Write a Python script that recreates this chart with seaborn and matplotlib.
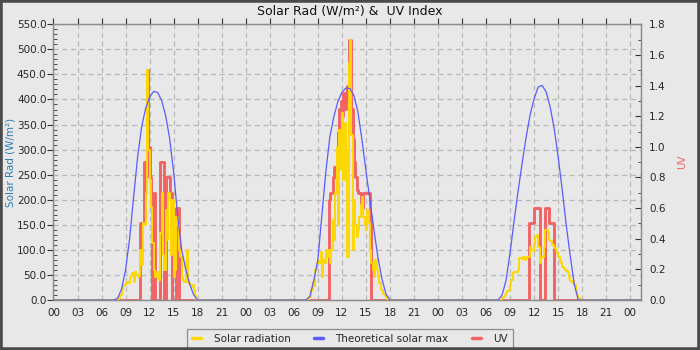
import numpy as np
import pandas as pd
import matplotlib
matplotlib.use("Agg")
import matplotlib.pyplot as plt
import seaborn as sns
from matplotlib.ticker import MultipleLocator, FuncFormatter
from matplotlib.lines import Line2D
from matplotlib.patches import Rectangle

# ---------------------------------------------------------------------------
# Data: three days of readings, hours counted from midnight of the first day
# ---------------------------------------------------------------------------
DAY_STARTS = [0, 24, 48]
X_END = 73.3

# Solar radiation (W/m²), 10-minute readings starting at SOLAR_T0 (hour of day)
SOLAR_T0 = [8.0, 7 + 40 / 60, 7 + 50 / 60]
solar_day1 = [0, 3, 10, 20, 28, 30, 33, 35, 33, 44, 48, 54, 36, 55, 50, 45, 48,
              100, 70, 153, 150, 213, 458, 300, 240, 186, 113, 60, 45, 55, 44,
              40, 133, 213, 90, 60, 180, 120, 213, 200, 90, 200, 45, 60, 166,
              150, 100, 86, 45, 40, 35, 76, 100, 33, 30, 25, 30, 20, 10, 0]
solar_day2 = [0, 5, 5, 20, 34, 27, 60, 73, 80, 73, 96, 46, 80, 73, 100, 86,
              100, 73, 100, 160, 120, 213, 305, 150, 339, 260, 373, 239, 353,
              300, 86, 473, 519, 330, 100, 200, 150, 126, 140, 166, 190, 206,
              166, 150, 140, 180, 153, 100, 73, 60, 46, 80, 60, 46, 33, 20, 20,
              12, 7, 5, 2, 0]
solar_day3 = [0, 3, 6, 10, 13, 18, 20, 30, 40, 53, 55, 56, 56, 60, 83, 84, 82,
              86, 80, 84, 86, 86, 106, 100, 98, 110, 126, 130, 106, 73, 83, 85,
              106, 140, 140, 136, 120, 118, 110, 110, 104, 100, 93, 85, 78, 73,
              66, 62, 60, 58, 53, 43, 38, 33, 37, 30, 20, 10, 3, 0]

# Theoretical clear-sky maximum (W/m²), half-hourly from 07:30 to 18:00
THEO_T0 = 7.5
theo_day1 = [0, 3, 22, 60, 122, 205, 285, 345, 382, 405, 416, 414, 398, 368,
             322, 255, 168, 100, 62, 32, 10, 0]
theo_day2 = [0, 7, 40, 80, 169, 256, 326, 366, 396, 414, 423, 422, 408, 375,
             320, 258, 200, 140, 85, 42, 12, 0]
theo_day3 = [0, 10, 40, 95, 158, 218, 273, 325, 370, 402, 425, 428, 415, 385,
             342, 285, 220, 150, 88, 32, 0, 0]

# UV index, 10-minute readings starting at UV_T0 (hour of day)
UV_T0 = [10 + 50 / 60, 10 + 20 / 60, 11 + 10 / 60]
uv_day1 = [0.5, 0.5, 0.5, 0.9, 0.8, 1.5, 1.0, 0.8, 0.7, 0.0, 0.7, 0.0, 0.0,
           0.0, 0.0, 0.9, 0.9, 0.9, 0.0, 0.8, 0.8, 0.8, 0.7, 0.7, 0.0, 0.0,
           0.0, 0.6, 0.6, 0.0]
uv_day2 = [0.65, 0.7, 0.7, 0.8, 0.87, 0.8, 0.7, 1.1, 1.25, 1.3, 1.2, 1.35,
           1.25, 1.3, 1.4, 1.7, 1.7, 1.25, 1.05, 0.9, 0.8, 0.72, 0.7, 0.7,
           0.63, 0.6, 0.7, 0.7, 0.7, 0.7, 0.7, 0.55, 0.0]
uv_day3 = [0.0, 0.5, 0.5, 0.5, 0.5, 0.6, 0.6, 0.6, 0.6, 0.0, 0.0, 0.0, 0.0,
           0.6, 0.6, 0.6, 0.5, 0.5, 0.5, 0.5, 0.0]

HOUR_TICKS = 3
SOLAR_MAX, UV_MAX = 550, 1.8


def build(days, t0s, step_h):
    """Join per-day lists into one time series padded with zeros at night."""
    hours, vals = [0.0], [0.0]
    for start, t0, values in zip(DAY_STARTS, t0s, days):
        hours += list(start + t0 + np.arange(len(values)) * step_h)
        vals += list(values)
    hours.append(X_END)
    vals.append(0.0)
    return pd.DataFrame({"hour": hours, "value": vals})


solar = build([solar_day1, solar_day2, solar_day3], SOLAR_T0, 1 / 6)
theo = build([theo_day1, theo_day2, theo_day3], [THEO_T0] * 3, 0.5)
uv = build([uv_day1, uv_day2, uv_day3], UV_T0, 1 / 6)

# ---------------------------------------------------------------------------
# Figure
# ---------------------------------------------------------------------------
sns.set_theme(style="white")
plt.rcParams["font.family"] = ["DejaVu Sans"]

BG = "#e8e8e8"
C_SOLAR = "#ffd700"
C_THEO = "#5b5bff"
C_UV = "#f26464"
C_LBL_LEFT = "#2f7db5"
GRID = "#b8b8b8"
SPINE = "#8c8c8c"

fig = plt.figure(figsize=(7, 3.5), dpi=100, facecolor=BG)
rect = [0.0764, 0.1429, 0.9153 - 0.0764, 0.9306 - 0.1429]

# background axes carries the dashed grid underneath every series
bg = fig.add_axes(rect, facecolor=BG, zorder=0)
bg.set_xlim(0, X_END)
bg.set_ylim(0, SOLAR_MAX)
bg.xaxis.set_major_locator(MultipleLocator(HOUR_TICKS))
bg.yaxis.set_major_locator(MultipleLocator(50))
bg.grid(True, color=GRID, linestyle=(0, (4, 3)), linewidth=0.9)
bg.tick_params(left=False, bottom=False, labelleft=False, labelbottom=False)
for s in bg.spines.values():
    s.set_visible(False)

ax = fig.add_axes(rect, zorder=2)
ax.patch.set_visible(False)
ax2 = ax.twinx()
ax2.set_zorder(1)
ax2.patch.set_visible(False)

# UV on the right axis (drawn beneath the radiation lines)
sns.lineplot(data=uv, x="hour", y="value", ax=ax2, color=C_UV, linewidth=2.1,
             drawstyle="steps-post", estimator=None, sort=False, legend=False)
sns.lineplot(data=solar, x="hour", y="value", ax=ax, color=C_SOLAR,
             linewidth=1.4, drawstyle="steps-post", estimator=None, sort=False,
             legend=False)
sns.lineplot(data=theo, x="hour", y="value", ax=ax, color=C_THEO,
             linewidth=0.9, estimator=None, sort=False, legend=False)

ax.set_xlim(0, X_END)
ax.set_ylim(0, SOLAR_MAX)
ax2.set_ylim(0, UV_MAX)

# ticks
ax.xaxis.set_major_locator(MultipleLocator(HOUR_TICKS))
ax.xaxis.set_minor_locator(MultipleLocator(1))
ax.xaxis.set_major_formatter(FuncFormatter(lambda v, p: f"{int(round(v)) % 24:02d}"))
ax.yaxis.set_major_locator(MultipleLocator(50))
ax.yaxis.set_minor_locator(MultipleLocator(10))
ax.yaxis.set_major_formatter(FuncFormatter(lambda v, p: f"{v:.1f}"))
ax2.yaxis.set_major_locator(MultipleLocator(0.2))
ax2.yaxis.set_minor_locator(MultipleLocator(0.1))
ax2.yaxis.set_major_formatter(FuncFormatter(lambda v, p: f"{v:.1f}"))

ax.tick_params(axis="x", which="major", direction="out", length=4, width=0.8,
               color="#333333", labelsize=7.5, pad=2, top=True)
ax.tick_params(axis="x", which="minor", direction="out", length=3, width=0.7,
               color="#333333", top=False)
ax.tick_params(axis="y", which="major", direction="out", length=4, width=0.8,
               color="#333333", labelsize=7.5, pad=1)
ax.tick_params(axis="y", which="minor", direction="in", length=3, width=0.6,
               color="#333333")
ax2.tick_params(axis="y", which="major", direction="in", length=4, width=0.8,
                color="#333333", labelsize=7.5, pad=6)
ax2.tick_params(axis="y", which="minor", direction="in", length=2.5,
                width=0.6, color="#333333")

for a in (ax, ax2):
    for s in a.spines.values():
        s.set_color(SPINE)
        s.set_linewidth(0.9)

ax.set_xlabel("")
ax.set_ylabel("Solar Rad (W/m²)", color=C_LBL_LEFT, fontsize=7.5)
ax2.set_ylabel("UV", color=C_UV, fontsize=7.5)
ax.yaxis.set_label_coords(-0.065, 0.5)
ax2.yaxis.set_label_coords(1.062, 0.5)

fig.text(0.5, 1 - 11 / 350, "Solar Rad (W/m²) &  UV Index", ha="center",
         va="center", fontsize=9, color="#111111")

handles = [Line2D([], [], color=C_SOLAR, linewidth=2.5),
           Line2D([], [], color=C_THEO, linewidth=2.5),
           Line2D([], [], color=C_UV, linewidth=2.5)]
leg = fig.legend(handles, ["Solar radiation", "Theoretical solar max", "UV"],
                 loc="center", bbox_to_anchor=(0.5, 1 - 339 / 350), ncol=3,
                 fontsize=7.5, frameon=True, fancybox=False, handlelength=0.9,
                 handletextpad=1.2, columnspacing=2.2, borderpad=0.45)
leg.get_frame().set_facecolor(BG)
leg.get_frame().set_edgecolor("#777777")
leg.get_frame().set_linewidth(0.9)

# dark outer frame
fig.patches.append(Rectangle((0, 0), 1, 1, transform=fig.transFigure,
                             fill=False, edgecolor="#4a4a4a", linewidth=4,
                             zorder=10))

fig.savefig("out.png", dpi=100, facecolor=BG)
